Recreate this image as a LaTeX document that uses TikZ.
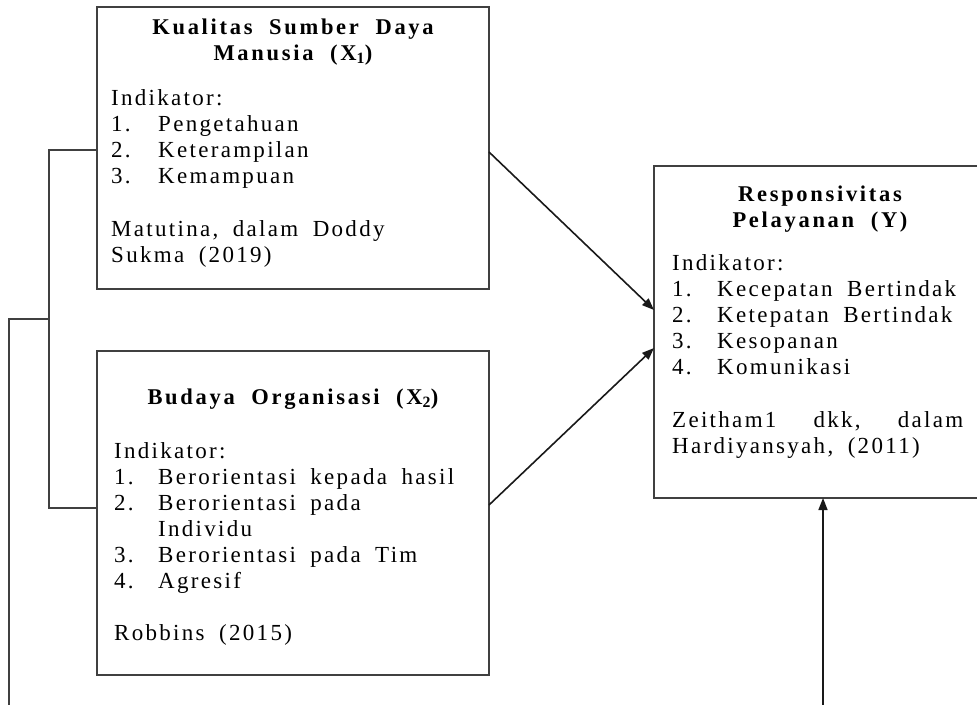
\documentclass[tikz,border=0pt]{standalone}
\usepackage{fontspec}
\setmainfont{Liberation Serif}[LetterSpace=10,WordSpace=1.8]
\newfontfamily\titlefont{Liberation Serif}[LetterSpace=12,WordSpace=2]
\usetikzlibrary{arrows.meta,calc}
\begin{document}
\begin{tikzpicture}[x=1pt,y=-1pt,
  box/.style={draw=black!75,line width=1.4pt,inner sep=0pt,outer sep=0pt},
  ttl/.style={inner sep=0pt,anchor=base,font=\titlefont\bfseries\fontsize{22.5}{25}\selectfont},
  txt/.style={inner sep=0pt,anchor=base west,font=\fontsize{23}{26}\selectfont},
  conn/.style={draw=black!90,line width=1.6pt},
  arr/.style={conn,-{Triangle[length=12pt,width=9pt]}},
  brk/.style={draw=black!75,line width=1.2pt}]
\useasboundingbox (0,0) rectangle (977,704);
\clip (0,0) rectangle (977,704);
\fill[white] (0,0) rectangle (977,704);
% boxes
\node[box,minimum width=392pt,minimum height=282pt] (x1) at (293,148) {};
\node[box,minimum width=392pt,minimum height=324pt] (x2) at (293,513) {};
\node[box,minimum width=332pt,minimum height=332pt] (y) at (820,332) {};
% X1 text
\node[ttl] (x1t1) at (293,34) {Kualitas Sumber Daya};
\node[ttl] (x1t2) at (293,60) {Manusia (X\textsubscript{1})};
\node[txt] (x1a) at (111,105) {Indikator:};
\node[txt] (x1n1) at (111,131) {1.};
\node[txt] (x1i1) at (158,131) {Pengetahuan};
\node[txt] (x1n2) at (111,157) {2.};
\node[txt] (x1i2) at (158,157) {Keterampilan};
\node[txt] (x1n3) at (111,183) {3.};
\node[txt] (x1i3) at (158,183) {Kemampuan};
\node[txt] (x1s1) at (111,236) {Matutina, dalam Doddy};
\node[txt] (x1s2) at (111,262) {Sukma (2019)};
% X2 text
\node[ttl] (x2t1) at (293,404) {Budaya Organisasi (X\textsubscript{2})};
\node[txt] (x2a) at (114,458) {Indikator:};
\node[txt] (x2n1) at (114,484) {1.};
\node[txt] (x2i1) at (158,484) {Berorientasi kepada hasil};
\node[txt] (x2n2) at (114,510) {2.};
\node[txt] (x2i2) at (158,510) {Berorientasi pada};
\node[txt] (x2i2b) at (158,536) {Individu};
\node[txt] (x2n3) at (114,562) {3.};
\node[txt] (x2i3) at (158,562) {Berorientasi pada Tim};
\node[txt] (x2n4) at (114,588) {4.};
\node[txt] (x2i4) at (158,588) {Agresif};
\node[txt] (x2s1) at (114,640) {Robbins (2015)};
% Y text
\node[ttl] (yt1) at (820,201) {Responsivitas};
\node[ttl] (yt2) at (820,227) {Pelayanan (Y)};
\node[txt] (ya) at (672,270) {Indikator:};
\node[txt] (yn1) at (672,296) {1.};
\node[txt] (yi1) at (717,296) {Kecepatan Bertindak};
\node[txt] (yn2) at (672,322) {2.};
\node[txt] (yi2) at (717,322) {Ketepatan Bertindak};
\node[txt] (yn3) at (672,348) {3.};
\node[txt] (yi3) at (717,348) {Kesopanan};
\node[txt] (yn4) at (672,374) {4.};
\node[txt] (yi4) at (717,374) {Komunikasi};
\node[txt] (ys1) at (672,427) {\makebox[291pt][s]{Zeitham1\hfill dkk,\hfill dalam}};
\node[txt] (ys2) at (672,453) {Hardiyansyah, (2011)};
% connectors
\draw[arr] ([yshift=-4pt]x1.east) -- ([yshift=22pt]y.west);
\draw[arr] ([yshift=8pt]x2.east) -- ([yshift=-16pt]y.west);
\coordinate (bot) at (823,710);
\draw[arr] (bot) -- (bot |- y.south);
% bracket
\coordinate (bx) at (49,0);
\coordinate (ox) at (9,319);
\draw[brk] ([yshift=-2pt]x1.west) -- ([yshift=-2pt]x1.west -| bx) -- ([yshift=5pt]x2.west -| bx) -- ([yshift=5pt]x2.west);
\draw[brk] (ox -| bx) -- (ox) -- (9,710);
\end{tikzpicture}
\end{document}
